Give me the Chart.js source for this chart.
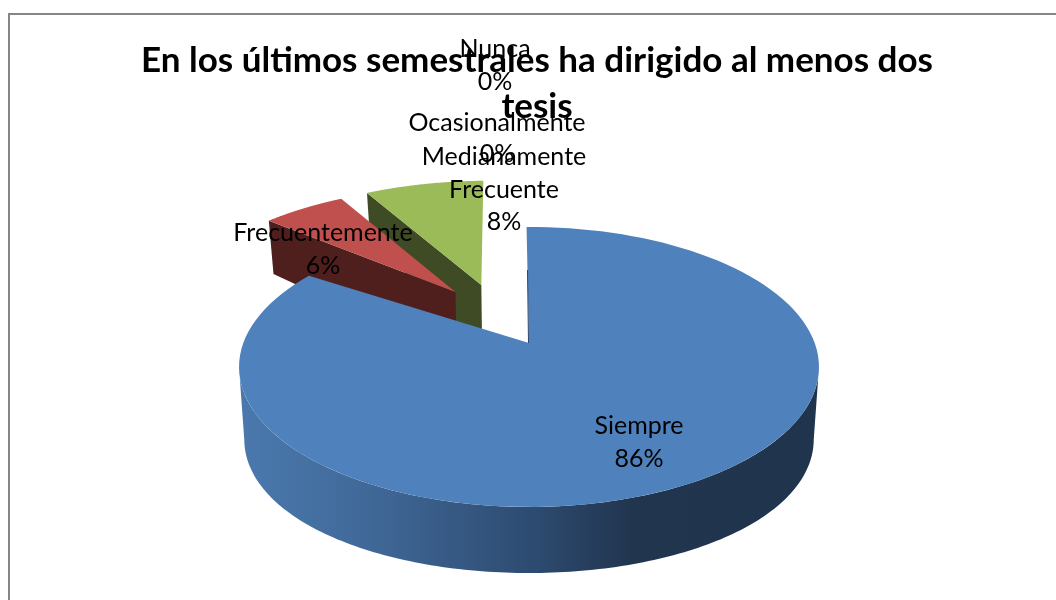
<!DOCTYPE html>
<html><head><meta charset="utf-8">
<style>html,body{margin:0;padding:0;background:#fff}canvas{display:block}</style>
<script src="https://cdn.jsdelivr.net/npm/chart.js@4"></script>
</head><body>
<canvas id="c" width="1056" height="600"></canvas>
<script>
const categories = ['Siempre','Frecuentemente','Medianamente Frecuente','Ocasionalmente','Nunca'];
const values = [86,6,8,0,0];
const faceColors = ['#4f81bd','#c0504d','#9bbb59','#8064a2','#4bacc6'];
const cutColors = ['#20344e','#4f1f1e','#3f4b24','#333','#333'];
const titleLines = ['En los últimos semestrales ha dirigido al menos dos','tesis'];

// perspective model of the 3D pie
const PX=529, PY=343, SX=285.7, SY=135.9, K=-0.171;
const explode=[[0,0],[-0.275,-0.401],[-0.18,-0.46],[0,0],[0,0]];
const radiusScale=[1,1.04,1.04,1,1];
const startNudge=[-0.01,0,-0.02,0,0];
const endNudge=[-0.12,-0.03,-0.02,0,0];
const project=(u,v)=>{const d=1+K*v;return {x:PX+SX*u/d,y:PY+SY*v/d};};
const depth=v=>71.4+5.5*v-10.8*v*v;
const lower=(u,v)=>{const p=project(u,v);return {x:p.x-(p.x-PX)*0.018,y:p.y+depth(v)};};
const at=(o,t,r)=>[o[0]+r*Math.sin(t),o[1]-r*Math.cos(t)];
const path=(ctx,pts)=>{ctx.beginPath();pts.forEach((p,i)=>i?ctx.lineTo(p.x,p.y):ctx.moveTo(p.x,p.y));ctx.closePath();};

function paintSlice(ctx,el,i){
  if(!(el.endAngle-el.startAngle>0))return;
  const a=el.startAngle+Math.PI/2+startNudge[i], b=el.endAngle+Math.PI/2+endNudge[i];
  const o=explode[i], r=radiusScale[i];
  if(i===0){ // outer wall, between the two widest points of the rim
    const t0=100*Math.PI/180,t1=260*Math.PI/180,top=[],bot=[];
    for(let k=0;k<=160;k++){const t=t0+(t1-t0)*k/160,[u,v]=at(o,t,r);top.push(project(u,v));bot.push(lower(u,v));}
    path(ctx,top.concat(bot.reverse()));
    const g=ctx.createLinearGradient(245,0,812,0);
    g.addColorStop(0,'#4a78ad');g.addColorStop(0.2,'#416a9a');g.addColorStop(0.5,'#2e4c72');g.addColorStop(0.68,'#21354f');g.addColorStop(1,'#20344e');
    ctx.fillStyle=g;ctx.fill();
  } else { // inner cut face along the start edge
    const [u,v]=at(o,a,r);
    path(ctx,[project(u,v),project(o[0],o[1]),lower(o[0],o[1]),lower(u,v)]);
    ctx.fillStyle=cutColors[i];ctx.fill();
  }
  const pts=[project(o[0],o[1])];
  for(let k=0;k<=120;k++){const t=a+(b-a)*k/120,[u,v]=at(o,t,r);pts.push(project(u,v));}
  path(ctx,pts);ctx.fillStyle=faceColors[i];ctx.fill();
  if(i===0){ctx.strokeStyle='#2b4568';ctx.lineWidth=1;ctx.beginPath();ctx.moveTo(PX-0.5,PY);ctx.lineTo(PX-1.5,270);ctx.stroke();}
}

const labelSpots=[[639,[426,459]],[323,[233,266]],[504,[157,190,222]],[497,[123,154]],[495,[49,82]]];
const pie3d={
  id:'pie3d',
  beforeDraw(chart){const c=chart.ctx;c.save();c.fillStyle='#fff';c.fillRect(0,0,1056,600);c.strokeStyle='#868686';c.lineWidth=2;c.strokeRect(9,14,1100,640);c.restore();},
  beforeDatasetDraw(chart,args){
    const c=chart.ctx,els=chart.getDatasetMeta(args.index).data;
    c.save();for(const i of [2,1,0])paintSlice(c,els[i],i);c.restore();
    return false;
  },
  afterDatasetsDraw(chart){
    const c=chart.ctx,total=values.reduce((a,b)=>a+b,0);
    c.save();c.fillStyle='#000';c.font='25px Lato';c.textAlign='center';c.textBaseline='middle';
    for(const i of [4,3,2,1,0]){
      const parts=i===2?categories[i].split(' '):[categories[i]];
      parts.push(Math.round(values[i]/total*100)+'%');
      parts.forEach((s,k)=>c.fillText(s,labelSpots[i][0],labelSpots[i][1][k]));
    }
    c.restore();
  }
};
new Chart(document.getElementById('c'),{
  type:'pie',
  data:{labels:categories,datasets:[{data:values,backgroundColor:faceColors,borderWidth:0}]},
  plugins:[pie3d],
  options:{responsive:false,animation:false,
    layout:{padding:{left:18,right:0,top:0,bottom:0}},
    plugins:{legend:{display:false},tooltip:{enabled:false},
      title:{display:true,text:titleLines,color:'#000',font:{family:'Lato',size:35,weight:'bold',lineHeight:1.3},padding:{top:38,bottom:0}}}}
});
</script>
</body></html>
